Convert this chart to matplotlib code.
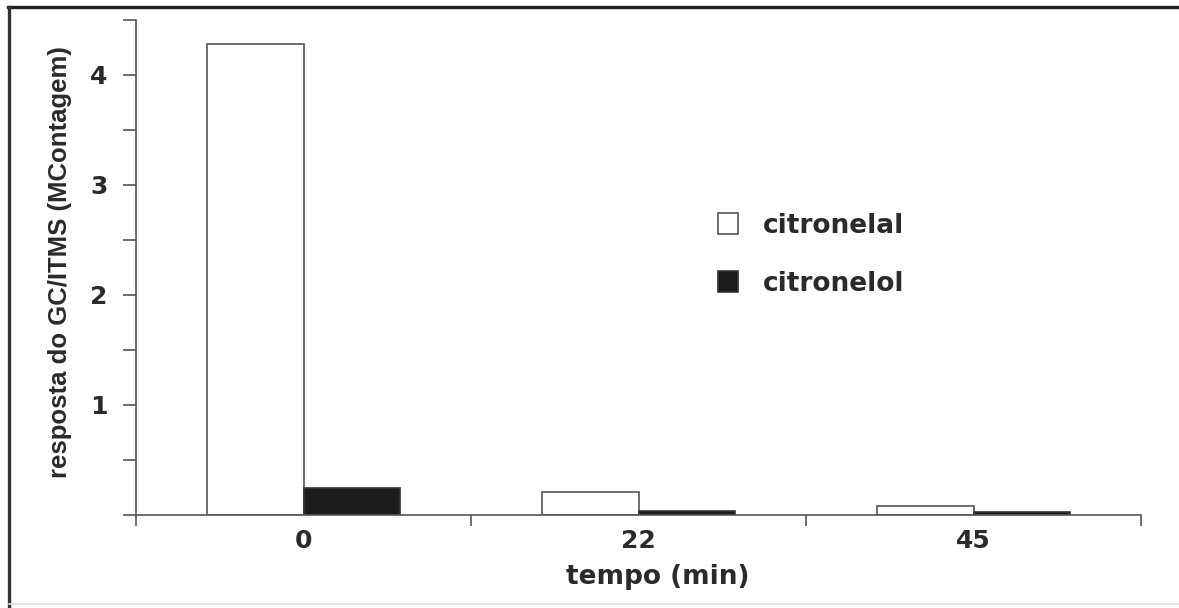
import numpy as np
import matplotlib.pyplot as plt
from matplotlib.lines import Line2D

plt.rcParams['font.family'] = ['DejaVu Sans']
plt.rcParams['font.weight'] = 'bold'

# response per time point (MContagem)
tempos = ['0', '22', '45']
citronelal = [4.28, 0.21, 0.085]
citronelol = [0.25, 0.04, 0.025]

W, H = 1179, 608
fig = plt.figure(figsize=(W / 100, H / 100), dpi=100)
ax = fig.add_axes([136 / W, 1 - 515 / H, 1005 / W, 495 / H])

x = np.arange(len(tempos))
w = 0.287
ax.bar(x - w/2, citronelal, w, color='white', edgecolor='#555555', linewidth=1.2, label='citronelal')
ax.bar(x + w/2, citronelol, w, color='#1c1c1c', edgecolor='#333333', linewidth=1.2, label='citronelol')

ax.set_xlim(-0.5, 2.5)
ax.set_ylim(0, 4.5)

for s in ['top', 'right']:
    ax.spines[s].set_visible(False)
for s in ['left', 'bottom']:
    ax.spines[s].set_color('#555555')
    ax.spines[s].set_linewidth(1.2)

# group separators as major ticks, labels centred under groups
ax.set_xticks([-0.5, 0.5, 1.5, 2.5])
ax.set_xticklabels([])
ax.set_xticks(x, minor=True)
ax.set_xticklabels(tempos, minor=True)
ax.tick_params(axis='x', which='major', direction='out', length=8, width=1.2, color='#555555')
ax.tick_params(axis='x', which='minor', length=0, pad=10, labelsize=18, labelcolor='#2a2a2a')

yt = np.arange(0, 4.51, 0.5)
ax.set_yticks(yt)
ax.set_yticklabels(['%d' % v if v in (1, 2, 3, 4) else '' for v in yt])
ax.tick_params(axis='y', direction='out', length=9.5, width=1.2, color='#555555',
               pad=11, labelsize=18, labelcolor='#2a2a2a')

ax.set_xlabel('tempo (min)', fontsize=19, fontweight='bold', color='#2a2a2a')
ax.xaxis.set_label_coords(0.519, -0.1)
ax.set_ylabel('resposta do GC/ITMS (MContagem)', fontsize=18.5, fontweight='bold',
              color='#2a2a2a', family='Liberation Sans')
ax.yaxis.set_label_coords(-0.064, 0.51)

ax.legend(loc='upper left', bbox_to_anchor=(718 / W, 1 - 213 / H), bbox_transform=fig.transFigure,
          frameon=False, fontsize=19, borderpad=0, borderaxespad=0,
          handlelength=0.76, handleheight=0.85, handletextpad=0.95,
          labelspacing=1.2, labelcolor='#2a2a2a')

# frame lines along the top and left edges
fig.add_artist(Line2D([8 / W, 1], [1 - 7 / H, 1 - 7 / H], transform=fig.transFigure,
                      color='#222222', linewidth=2.4))
fig.add_artist(Line2D([9 / W, 9 / W], [0, 1 - 7 / H], transform=fig.transFigure,
                      color='#333333', linewidth=2.4))
fig.add_artist(Line2D([9 / W, 1], [1 - 604 / H, 1 - 604 / H], transform=fig.transFigure,
                      color='#dddddd', linewidth=1.2))

fig.savefig('out.png', dpi=100)
